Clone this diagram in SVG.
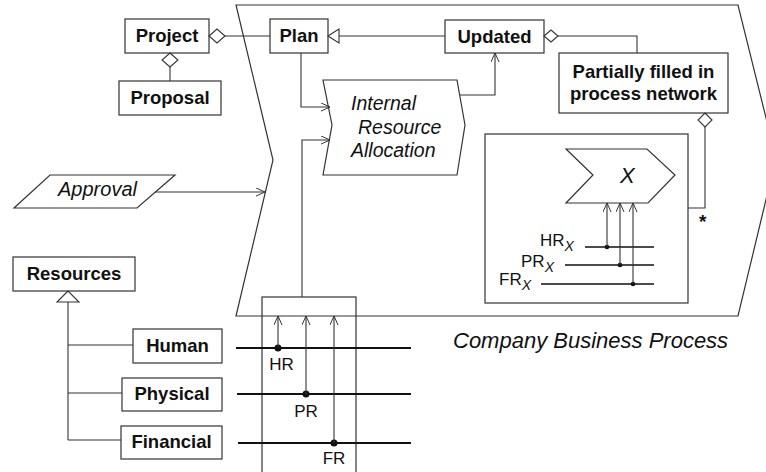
<svg xmlns="http://www.w3.org/2000/svg" width="766" height="472" viewBox="0 0 766 472">
<defs>
<style>
.box{fill:#fff;stroke:#333;stroke-width:1.2}
.ln{fill:none;stroke:#333;stroke-width:1.1}
.res{fill:none;stroke:#111;stroke-width:2}
.resx{fill:none;stroke:#111;stroke-width:1.6}
.b{font-family:"Liberation Sans",Arial,sans-serif;font-weight:bold;font-size:18.5px;fill:#111;text-anchor:middle}
.i{font-family:"Liberation Sans",Arial,sans-serif;font-style:italic;font-size:19.5px;fill:#111}
.r{font-family:"Liberation Sans",Arial,sans-serif;font-size:17px;fill:#111}
.hol{fill:#fff;stroke:#333;stroke-width:1.1}
</style>
<marker id="arr" viewBox="0 0 10 10" markerWidth="10" markerHeight="9" refX="10" refY="5" orient="auto" markerUnits="userSpaceOnUse">
<path d="M0,0.5 L10,5 L0,9.5" fill="none" stroke="#333" stroke-width="1.1"/>
</marker>
</defs>
<rect width="766" height="472" fill="#fff"/>

<g id="process">
<polygon class="box" points="236,5 738,5 776,158 738,316 236,316 273,160"/>
<text class="i" x="453" y="348" style="font-size:22px">Company Business Process</text>
</g>

<g id="project">
<rect class="box" x="125" y="19" width="84" height="34"/>
<text class="b" x="167" y="42">Project</text>
</g>
<g id="plan">
<rect class="box" x="270" y="19" width="58" height="34"/>
<text class="b" x="299" y="42">Plan</text>
</g>
<g id="proposal">
<rect class="box" x="119" y="81" width="102" height="34"/>
<text class="b" x="170" y="104">Proposal</text>
</g>
<g id="updated">
<rect class="box" x="445" y="20" width="99" height="33"/>
<text class="b" x="494.5" y="43">Updated</text>
</g>
<g id="partially">
<rect class="box" x="559" y="53" width="169" height="60"/>
<text class="b" x="643.5" y="78">Partially filled in</text>
<text class="b" x="643.5" y="100">process network</text>
</g>
<g id="ira">
<polygon class="box" points="323,80 457,80 465,125 457,175 323,175 332,125"/>
<text class="i" x="351" y="110">Internal</text>
<text class="i" x="358" y="134">Resource</text>
<text class="i" x="351" y="157">Allocation</text>
</g>
<g id="approval">
<polygon class="box" points="50,175 175,175 137,208 14,208"/>
<text class="i" x="97.5" y="196" text-anchor="middle" style="font-size:20px">Approval</text>
</g>
<g id="network">
<rect class="box" x="485" y="134" width="203" height="169"/>
<polygon class="box" points="566,149 647,149 675,175 648,203 566,203 593,175"/>
<text class="i" x="620" y="183" style="font-size:22px">X</text>
</g>
<g id="resources">
<rect class="box" x="13" y="257" width="122" height="34"/>
<text class="b" x="74" y="280">Resources</text>
</g>
<g id="human">
<rect class="box" x="133" y="329" width="89" height="34"/>
<text class="b" x="177.5" y="352">Human</text>
</g>
<g id="physical">
<rect class="box" x="122" y="378" width="100" height="33"/>
<text class="b" x="172" y="400">Physical</text>
</g>
<g id="financial">
<rect class="box" x="121" y="426" width="101" height="33"/>
<text class="b" x="171.5" y="448">Financial</text>
</g>
<g id="resourcebox">
<rect x="262" y="297" width="94" height="190" fill="none" stroke="#333" stroke-width="1.2"/>
</g>

<g id="connectors">
<path class="ln" d="M225,36 H270"/>
<polygon class="hol" points="209,36 217,29 225,36 217,43"/>
<path class="ln" d="M170,67 V81"/>
<polygon class="hol" points="170,53 178,60 170,67 162,60"/>
<path class="ln" d="M339,36 H445"/>
<polygon class="hol" points="328,36 339,29 339,43"/>
<path class="ln" d="M558,36 H637 V53"/>
<polygon class="hol" points="544,36 551,30 558,36 551,42"/>
<path class="ln" d="M301,53 V107 H330" marker-end="url(#arr)"/>
<path class="ln" d="M302,297 V140 H330" marker-end="url(#arr)"/>
<path class="ln" d="M460,95 H495 V53" marker-end="url(#arr)"/>
<path class="ln" d="M155,192 H265" marker-end="url(#arr)"/>
<path class="ln" d="M705,127 V208 H688"/>
<polygon class="hol" points="705,113 712,120 705,127 698,120"/>
<text class="r" x="699" y="228" style="font-weight:bold;font-size:19px">*</text>
<path class="ln" d="M68,302 V440 M68,345 H133 M68,393 H122 M68,440 H121"/>
<polygon class="hol" points="68,291 57,302 79,302"/>
<path class="res" d="M236,348 H411 M237,394 H411 M238,443 H411"/>
<circle cx="278" cy="348" r="3.5" fill="#111"/>
<circle cx="306" cy="394" r="3.5" fill="#111"/>
<circle cx="334" cy="443" r="3.5" fill="#111"/>
<path class="ln" d="M278,348 V316" marker-end="url(#arr)"/>
<path class="ln" d="M306,394 V316" marker-end="url(#arr)"/>
<path class="ln" d="M334,443 V316" marker-end="url(#arr)"/>
<text class="r" x="281.5" y="370" text-anchor="middle">HR</text>
<text class="r" x="306" y="417" text-anchor="middle">PR</text>
<text class="r" x="334" y="464" text-anchor="middle">FR</text>
<path class="resx" d="M585,247 H654 M565,265 H654 M541,284 H654"/>
<circle cx="607" cy="247" r="2.3" fill="#111"/>
<circle cx="620" cy="265" r="2.3" fill="#111"/>
<circle cx="633" cy="284" r="2.3" fill="#111"/>
<path class="ln" d="M607,247 V203" marker-end="url(#arr)"/>
<path class="ln" d="M620,265 V203" marker-end="url(#arr)"/>
<path class="ln" d="M633,284 V203" marker-end="url(#arr)"/>
<text class="r" x="540" y="246">HR<tspan dy="5" style="font-style:italic;font-size:14px">X</tspan></text>
<text class="r" x="521" y="267">PR<tspan dy="5" style="font-style:italic;font-size:14px">X</tspan></text>
<text class="r" x="499" y="285">FR<tspan dy="5" style="font-style:italic;font-size:14px">X</tspan></text>
</g>
</svg>
